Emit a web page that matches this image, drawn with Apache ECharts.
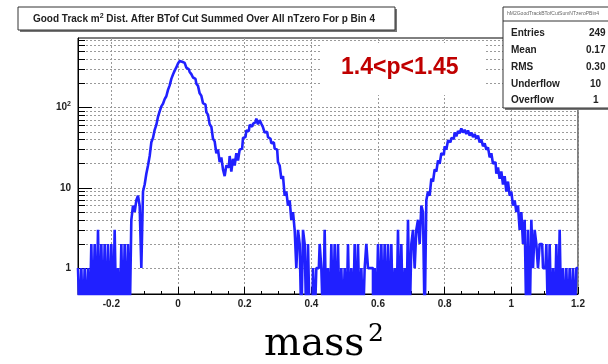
<!DOCTYPE html>
<html><head><meta charset="utf-8">
<script src="https://cdn.jsdelivr.net/npm/echarts@6/dist/echarts.min.js"></script>
<style>html,body{margin:0;padding:0;background:#fff}#c{width:608px;height:364px}</style>
</head><body><div id="c"></div>
<script>
// ---- histogram binning (ROOT TH1, 300 bins from -0.3 to 1.2) ----
const binStart = -0.3;
const binWidth = 0.005;
// counts per bin, split by mass^2 range
const countsM30toM05 = [1,0,1,0,1,0,1,0,2,0, 2,0,3,0,2,0,2,0,2,0, 2,0,3,0,1,0,2,0,2,0, 2,0,4,6,5,7,8,6,1,9, 11,15,19,25,37,42,53,61,77,90];
const countsM05to20 = [104,112,128,139,167,190,229,259,290,318, 356,381,374,362,343,316,301,279,262,238, 229,199,187,151,141,114,109,88,82,62, 58,41,38,27,30,21,24,17,14,19, 18,25,16,23,19,27,22,30,31,42];
const counts20to45 = [43,52,51,61,58,63,66,73,62,70, 63,57,49,50,43,41,36,37,31,30, 21,19,13,14,8,9,6,7,4,5, 3,1,3,2,0,3,2,0,2,0, 0,1,0,1,1,2,1,0,3,0];
const counts45to70 = [1,0,2,0,2,0,2,0,1,0, 1,0,2,0,1,0,2,0,2,0, 1,0,1,2,1,1,1,0,1,0, 2,0,2,0,2,0,2,0,2,0, 1,0,3,0,2,0,1,0,4,0];
const counts70to95 = [2,3,1,3,4,2,6,5,0,7, 9,8,13,12,17,16,22,20,27,26, 33,30,39,37,42,41,49,44,51,48, 55,49,53,47,52,45,49,43,47,41, 45,37,40,33,36,30,32,24,27,20];
const counts95to120 = [21,15,18,13,16,11,14,9,12,8, 9,6,7,5,6,3,5,2,4,0, 3,0,4,1,3,2,1,2,2,1, 1,2,0,2,0,1,0,2,0,3, 0,1,0,1,0,1,0,1,0,1];

const xTickLabels = [-0.2, 0, 0.2, 0.4, 0.6, 0.8, 1, 1.2];
const yMajorTicks = [1, 10, 100];
const yMinorTicks = [2,3,4,5,6,7,8,9,20,30,40,50,60,70,80,90,200,300,400,500,600,700];

const titleParts = ['Good Track m', '2', ' Dist. After BTof Cut Summed Over All nTzero For p Bin 4'];
const statsName = 'hM2GoodTrackBTofCutSumNTzeroPBin4';
const statsLabels = ['Entries', 'Mean', 'RMS', 'Underflow', 'Overflow'];
const statsValues = ['249', '0.17', '0.30', '10', '1'];
const momentumLabel = '1.4<p<1.45';
const xTitle = 'mass';

// ---- build ----
const counts = [].concat(countsM30toM05, countsM05to20, counts20to45, counts45to70, counts70to95, counts95to120);
const nBins = counts.length;
const BELOW = 0.2; // empty bins fall below the log axis floor
const pts = counts.map((c, i) => [binStart + binWidth * (i + 0.5), c > 0 ? c : BELOW]);
pts.unshift([binStart, pts[0][1]]);
pts.push([binStart + binWidth * nBins, pts[pts.length - 1][1]]);

const F = 'Liberation Sans';
const grid = {left: 78, right: 30, top: 38, bottom: 70};
const dashed = {color: '#9a9a9a', width: 1, type: [2, 2]};

const chart = echarts.init(document.getElementById('c'), null, {renderer: 'canvas'});
const statsRows = [33, 50, 67, 84, 100];
const statsValX = [589, 586, 586, 590, 593];
const graphics = [];
// title pave
graphics.push({type: 'rect', shape: {x: 20, y: 9, width: 377, height: 23}, style: {fill: '#777'}, z: 20});
graphics.push({type: 'rect', shape: {x: 18, y: 7, width: 377, height: 23}, style: {fill: '#fff', stroke: '#333', lineWidth: 1}, z: 21});
graphics.push({type: 'text', x: 204, y: 19, z: 22, style: {
  text: '{a|' + titleParts[0] + '}{s|' + titleParts[1] + '}{a|' + titleParts[2] + '}',
  align: 'center', verticalAlign: 'middle',
  rich: {a: {fontFamily: F, fontWeight: 'bold', fontSize: 10, fill: '#222'}, s: {fontFamily: F, fontWeight: 'bold', fontSize: 7, fill: '#222', padding: [0, 0, 6, 0]}}
}});
// momentum label box
graphics.push({type: 'rect', shape: {x: 321, y: 43, width: 164, height: 52}, style: {fill: '#fff'}, z: 20});
graphics.push({type: 'text', x: 341, y: 68, z: 22, style: {text: momentumLabel, fontFamily: F, fontWeight: 'bold', fontSize: 23, fill: '#c00000', align: 'left', verticalAlign: 'middle'}});
// stats pave
graphics.push({type: 'rect', shape: {x: 505, y: 9, width: 120, height: 101}, style: {fill: '#777'}, z: 20});
graphics.push({type: 'rect', shape: {x: 503, y: 7, width: 120, height: 101}, style: {fill: '#fff', stroke: '#333', lineWidth: 1}, z: 21});
graphics.push({type: 'line', shape: {x1: 503, y1: 21, x2: 608, y2: 21}, style: {stroke: '#333', lineWidth: 1}, z: 22});
graphics.push({type: 'text', x: 507, y: 14, z: 22, style: {text: statsName, fontFamily: F, fontSize: 5, fill: '#666', verticalAlign: 'middle'}});
statsLabels.forEach((s, i) => {
  graphics.push({type: 'text', x: 511, y: statsRows[i], z: 22, style: {text: s, fontFamily: F, fontWeight: 'bold', fontSize: 10, fill: '#222', verticalAlign: 'middle'}});
  graphics.push({type: 'text', x: statsValX[i], y: statsRows[i], z: 22, style: {text: statsValues[i], fontFamily: F, fontWeight: 'bold', fontSize: 10, fill: '#222', verticalAlign: 'middle'}});
});
// x title
graphics.push({type: 'text', x: 264, y: 345, z: 22, style: {text: xTitle, fontFamily: 'DejaVu Serif', fontSize: 39, fill: '#000', verticalAlign: 'middle'}});
graphics.push({type: 'text', x: 368, y: 334, z: 22, style: {text: '2', fontFamily: 'DejaVu Serif', fontSize: 25, fill: '#000', verticalAlign: 'middle'}});

chart.setOption({
  animation: false,
  backgroundColor: '#fff',
  grid: Object.assign({show: true, borderColor: '#000', borderWidth: 1, backgroundColor: 'transparent'}, grid),
  xAxis: [{
    type: 'value', min: -0.3, max: 1.2, position: 'bottom',
    axisLine: {show: true, onZero: false, lineStyle: {color: '#000', width: 1}},
    axisTick: {show: true, inside: true, length: 7, customValues: xTickLabels, lineStyle: {color: '#000'}},
    axisLabel: {customValues: xTickLabels, formatter: v => String(v), margin: 5, fontFamily: F, fontWeight: 'bold', fontSize: 10, color: '#222'},
    splitLine: {show: true, lineStyle: dashed}
  }, {
    type: 'value', min: -0.3, max: 1.2, interval: 0.05, position: 'bottom', offset: 0,
    axisLine: {show: false, onZero: false}, axisTick: {show: true, inside: true, length: 3, lineStyle: {color: '#000'}},
    axisLabel: {show: false}, splitLine: {show: false}
  }],
  yAxis: [{
    type: 'log', logBase: 10, min: 0.475, max: 740, position: 'left',
    axisLine: {show: true, onZero: false, lineStyle: {color: '#000', width: 1}},
    axisTick: {show: true, inside: true, length: 14, customValues: yMajorTicks, lineStyle: {color: '#000'}},
    axisLabel: {customValues: yMajorTicks, margin: 7, fontFamily: F, fontWeight: 'bold', fontSize: 10, color: '#222',
      formatter: v => (Math.abs(v - 100) < 1e-6 ? '{a|10}{s|2}' : '{a|' + Math.round(v) + '}'),
      rich: {a: {fontFamily: F, fontWeight: 'bold', fontSize: 10, color: '#222'}, s: {fontFamily: F, fontWeight: 'bold', fontSize: 7, color: '#222', padding: [0, 0, 7, 0]}}},
    splitLine: {show: true, lineStyle: dashed}
  }, {
    type: 'log', logBase: 10, min: 0.475, max: 740, position: 'left', offset: 0,
    axisLine: {show: false, onZero: false},
    axisTick: {show: true, inside: true, length: 7, customValues: yMinorTicks, lineStyle: {color: '#000'}},
    axisLabel: {show: false, customValues: yMinorTicks},
    splitLine: {show: true, lineStyle: dashed}
  }],
  graphic: graphics,
  series: [{
    type: 'line', xAxisIndex: 0, yAxisIndex: 0, data: pts, step: 'middle',
    symbol: 'none', clip: true, silent: true, z: 5,
    lineStyle: {color: '#2020ff', width: 2.6}
  }]
});
</script>
</body></html>
